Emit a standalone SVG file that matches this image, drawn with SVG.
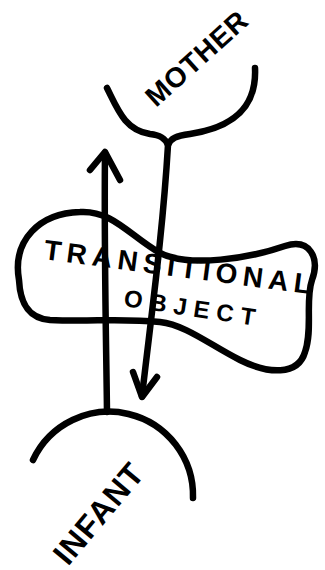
<svg xmlns="http://www.w3.org/2000/svg" width="325" height="570" viewBox="0 0 325 570">
<style>
.ink{fill:none;stroke:#000;stroke-width:6.5;stroke-linecap:round;stroke-linejoin:round}
.lbl{font-family:"Liberation Sans",Arial,sans-serif;font-weight:bold;fill:#000}
</style>
<rect width="325" height="570" fill="#fff"/>
<g id="mother">
<path class="ink" d="M107,88 C118,110 125,130 150,134 C160,135 165,138 168,145 C171,138 176,136 190,134 C230,128 257,110 255,68"/>
<text class="lbl" font-size="28" letter-spacing="1" transform="translate(156,108) rotate(-42)">MOTHER</text>
</g>
<g id="transitional-object">
<path class="ink" d="M19,280 C12,240 40,213 80,212 C112,210 130,236 160,253 C190,268 250,258 285,246 C310,238 320,258 312,280 C305,300 313,330 305,352 C298,376 268,374 240,360 C210,345 186,325 160,322 C120,318 90,322 50,320 C26,318 20,300 19,280 Z"/>
<text class="lbl" font-size="28" letter-spacing="5.5" transform="translate(43,259) rotate(7.5)">TRANSITIONAL</text>
<text class="lbl" font-size="24" letter-spacing="7" transform="translate(123,306) rotate(8.5)">OBJECT</text>
</g>
<g id="infant">
<path class="ink" d="M33,460 A84,84 0 0 1 193,498"/>
<text class="lbl" font-size="32" letter-spacing="1" transform="translate(68,567) rotate(-50)">INFANT</text>
</g>
<g id="connectors">
<path class="ink" d="M107,412 C106,330 104,250 105,153"/>
<path class="ink" d="M90,170 L105,152 L120,180"/>
<path class="ink" d="M168,145 C163,230 152,310 142,396"/>
<path class="ink" d="M133,372 L142,397 L157,377"/>
</g>
</svg>
